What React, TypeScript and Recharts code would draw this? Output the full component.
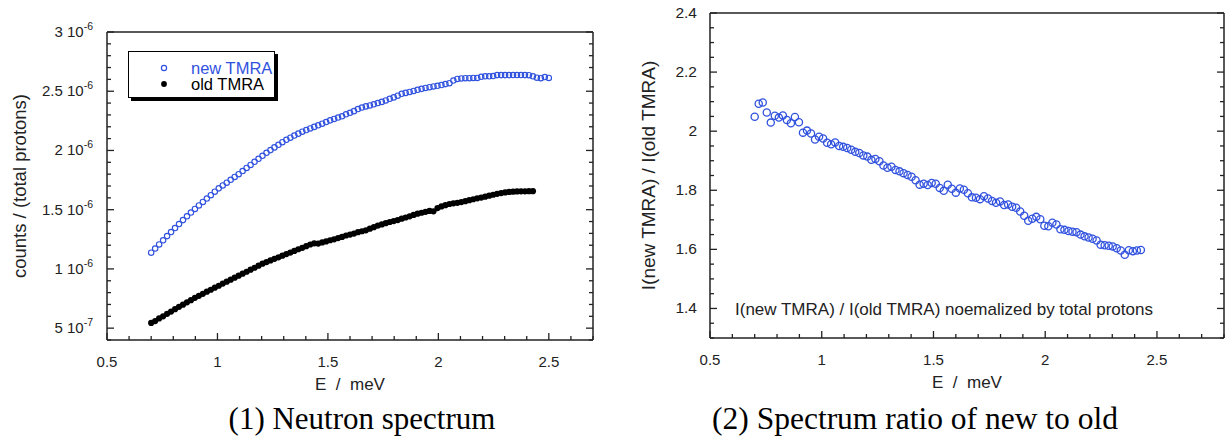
import React from "react";
import { ScatterChart, Scatter, XAxis, YAxis, Legend } from "recharts";

// ---------------------- DATA ----------------------
// neutron energy bins, E / meV
const energy = [
  0.700, 0.718, 0.736, 0.754, 0.772, 0.790, 0.808, 0.826, 0.844, 0.862,
  0.880, 0.898, 0.916, 0.934, 0.952, 0.970, 0.988, 1.006, 1.024, 1.042,
  1.060, 1.078, 1.096, 1.114, 1.132, 1.150, 1.168, 1.186, 1.204, 1.222,
  1.240, 1.258, 1.276, 1.294, 1.312, 1.330, 1.348, 1.366, 1.384, 1.402,
  1.420, 1.438, 1.456, 1.474, 1.492, 1.510, 1.528, 1.546, 1.564, 1.582,
  1.600, 1.618, 1.636, 1.654, 1.672, 1.690, 1.708, 1.726, 1.744, 1.762,
  1.780, 1.798, 1.816, 1.834, 1.852, 1.870, 1.888, 1.906, 1.924, 1.942,
  1.960, 1.978, 1.996, 2.014, 2.032, 2.050, 2.068, 2.086, 2.104, 2.122,
  2.140, 2.158, 2.176, 2.194, 2.212, 2.230, 2.248, 2.266, 2.284, 2.302,
  2.320, 2.338, 2.356, 2.374, 2.392, 2.410, 2.428, 2.446, 2.464, 2.482,
  2.500,
];

// counts / (total protons), in units of 1e-6
const newTmra = [
  1.137, 1.172, 1.207, 1.242, 1.277, 1.311, 1.345, 1.379, 1.412, 1.444,
  1.476, 1.506, 1.536, 1.565, 1.594, 1.622, 1.652, 1.680, 1.705, 1.728,
  1.752, 1.776, 1.800, 1.826, 1.852, 1.878, 1.904, 1.930, 1.955, 1.980,
  2.003, 2.026, 2.048, 2.070, 2.090, 2.108, 2.126, 2.142, 2.158, 2.172,
  2.186, 2.199, 2.212, 2.226, 2.240, 2.254, 2.266, 2.278, 2.288, 2.305,
  2.318, 2.332, 2.350, 2.362, 2.372, 2.380, 2.390, 2.400, 2.410, 2.422,
  2.436, 2.448, 2.462, 2.478, 2.486, 2.494, 2.502, 2.512, 2.520, 2.528,
  2.534, 2.540, 2.546, 2.552, 2.560, 2.568, 2.590, 2.604, 2.608, 2.610,
  2.610, 2.612, 2.612, 2.622, 2.626, 2.626, 2.628, 2.636, 2.636, 2.636,
  2.636, 2.637, 2.637, 2.637, 2.636, 2.635, 2.626, 2.614, 2.610, 2.620,
  2.612,
];

const oldTmra = [
  0.544, 0.560, 0.582, 0.600, 0.621, 0.640, 0.660, 0.680, 0.698, 0.718,
  0.736, 0.756, 0.773, 0.790, 0.808, 0.824, 0.842, 0.858, 0.876, 0.892,
  0.909, 0.926, 0.943, 0.960, 0.976, 0.994, 1.010, 1.027, 1.044, 1.058,
  1.072, 1.085, 1.098, 1.112, 1.125, 1.138, 1.152, 1.166, 1.178, 1.192,
  1.206, 1.216, 1.214, 1.224, 1.232, 1.242, 1.250, 1.260, 1.270, 1.282,
  1.290, 1.298, 1.310, 1.318, 1.326, 1.340, 1.352, 1.366, 1.376, 1.386,
  1.396, 1.404, 1.412, 1.424, 1.434, 1.444, 1.456, 1.466, 1.474, 1.482,
  1.490, 1.486, 1.514, 1.528, 1.538, 1.548, 1.554, 1.558, 1.564, 1.572,
  1.580, 1.588, 1.596, 1.602, 1.610, 1.618, 1.626, 1.634, 1.640, 1.646,
  1.650, 1.652, 1.654, 1.655, 1.655, 1.656, 1.656,
];

// I(new TMRA) / I(old TMRA)
const ratio = [
  2.049, 2.093, 2.097, 2.063, 2.029, 2.052, 2.046, 2.053, 2.038, 2.027,
  2.048, 2.030, 1.995, 2.002, 1.992, 1.972, 1.981, 1.975, 1.961, 1.956,
  1.962, 1.950, 1.947, 1.943, 1.937, 1.930, 1.926, 1.918, 1.914, 1.903,
  1.906, 1.898, 1.884, 1.876, 1.880, 1.869, 1.864, 1.858, 1.852, 1.846,
  1.834, 1.819, 1.822, 1.818, 1.825, 1.822, 1.808, 1.798, 1.819, 1.805,
  1.792, 1.806, 1.802, 1.790, 1.776, 1.775, 1.770, 1.780, 1.772, 1.764,
  1.758, 1.762, 1.750, 1.752, 1.744, 1.741, 1.728, 1.714, 1.697, 1.704,
  1.710, 1.702, 1.680, 1.678, 1.690, 1.684, 1.668, 1.666, 1.662, 1.660,
  1.658, 1.650, 1.644, 1.640, 1.636, 1.630, 1.616, 1.614, 1.612, 1.610,
  1.604, 1.596, 1.582, 1.597, 1.594, 1.596, 1.598,
];

// tick positions
const specXTicks = [0.5, 0.6, 0.7, 0.8, 0.9, 1, 1.1, 1.2, 1.3, 1.4, 1.5, 1.6, 1.7, 1.8, 1.9, 2, 2.1, 2.2, 2.3, 2.4, 2.5, 2.6, 2.7];
const specYTicks = [0.4, 0.5, 0.6, 0.7, 0.8, 0.9, 1, 1.1, 1.2, 1.3, 1.4, 1.5, 1.6, 1.7, 1.8, 1.9, 2, 2.1, 2.2, 2.3, 2.4, 2.5, 2.6, 2.7, 2.8, 2.9, 3];
const ratioXTicks = [0.5, 0.6, 0.7, 0.8, 0.9, 1, 1.1, 1.2, 1.3, 1.4, 1.5, 1.6, 1.7, 1.8, 1.9, 2, 2.1, 2.2, 2.3, 2.4, 2.5, 2.6, 2.7, 2.8];
const ratioYTicks = [1.3, 1.35, 1.4, 1.45, 1.5, 1.55, 1.6, 1.65, 1.7, 1.75, 1.8, 1.85, 1.9, 1.95, 2, 2.05, 2.1, 2.15, 2.2, 2.25, 2.3, 2.35, 2.4];

// scientific labels of the spectrum y axis: mantissa and exponent
const specYLabels = [
  { v: 0.5, m: "5", e: "-7" },
  { v: 1, m: "1", e: "-6" },
  { v: 1.5, m: "1.5", e: "-6" },
  { v: 2, m: "2", e: "-6" },
  { v: 2.5, m: "2.5", e: "-6" },
  { v: 3, m: "3", e: "-6" },
];

const newData = energy.map((e, i) => ({ e, v: newTmra[i] }));
const oldData = energy.slice(0, oldTmra.length).map((e, i) => ({ e, v: oldTmra[i] }));
const ratioData = energy.slice(0, ratio.length).map((e, i) => ({ e, r: ratio[i] }));

// ---------------------- STYLE ----------------------
const FONT = "'Liberation Sans', Arial, Helvetica, sans-serif";
const SERIF = "'Liberation Serif', 'Times New Roman', serif";
const INK = "#222";
const BLUE = "#3152de";
const frame = { stroke: INK, strokeWidth: 1.5 };

type Side = "bottom" | "top" | "left" | "right";

// inward ticks, longer on the major values, label drawn only there
function makeTick(side: Side, majorStep: number, label?: (v: number, x: number, y: number) => React.ReactNode) {
  return (props: any) => {
    const { x, y, payload } = props;
    const v = payload.value;
    const major = Math.abs(v / majorStep - Math.round(v / majorStep)) < 1e-6;
    const len = major ? 7 : 4;
    let x2 = x;
    let y2 = y;
    if (side === "bottom") y2 = y - len;
    if (side === "top") y2 = y + len;
    if (side === "left") x2 = x + len;
    if (side === "right") x2 = x - len;
    return (
      <g>
        <line x1={x} y1={y} x2={x2} y2={y2} stroke={INK} strokeWidth={1.3} />
        {major && label ? label(v, x, y) : null}
      </g>
    );
  };
}

const xLabel = (v: number, x: number, y: number) => (
  <text x={x} y={y + 27} textAnchor="middle" fontSize={15} fill={INK} fontFamily={FONT}>
    {String(v)}
  </text>
);

const sciLabel = (v: number, x: number, y: number) => {
  const l = specYLabels.find((s) => Math.abs(s.v - v) < 1e-6);
  if (!l) return null;
  return (
    <text x={x - 14} y={y + 5} textAnchor="end" fontSize={15} fill={INK} fontFamily={FONT}>
      <tspan>{l.m} 10</tspan>
      <tspan dy={-7} fontSize={10.5}>{l.e}</tspan>
    </text>
  );
};

const ratioYLabel = (v: number, x: number, y: number) => (
  <text x={x - 13} y={y + 5} textAnchor="end" fontSize={15.5} fill={INK} fontFamily={FONT}>
    {String(Math.round(v * 10) / 10)}
  </text>
);

const xTitle = (p: any) => {
  const vb = p.viewBox;
  return (
    <text x={vb.x + vb.width / 2} y={vb.y + 50} textAnchor="middle" fontSize={17} fill={INK} fontFamily={FONT} style={{ whiteSpace: "pre" }}>
      {"E  /  meV"}
    </text>
  );
};

const yTitle = (text: string, dx: number, size: number) => (p: any) => {
  const vb = p.viewBox;
  const cx = vb.x + dx;
  const cy = vb.y + vb.height / 2;
  return (
    <text x={cx} y={cy} transform={`rotate(-90 ${cx} ${cy})`} textAnchor="middle" dominantBaseline="central" fontSize={size} fill={INK} fontFamily={FONT}>
      {text}
    </text>
  );
};

const openDot = (r: number, w: number) => (p: any) => (
  <circle cx={p.cx} cy={p.cy} r={r} fill="none" stroke={BLUE} strokeWidth={w} />
);
const blackDot = (p: any) => <circle cx={p.cx} cy={p.cy} r={3.1} fill="#000" />;

function SpecLegend() {
  return (
    <div style={{ width: 147, height: 47, border: "1px solid #000", boxShadow: "3px 3px 0 #000", background: "#fff", boxSizing: "border-box" }}>
      <svg width={145} height={45}>
        <circle cx={35} cy={16} r={2.6} fill="none" stroke={BLUE} strokeWidth={1.2} />
        <text x={62} y={22} fontSize={16.5} fill={BLUE} fontFamily={FONT}>new TMRA</text>
        <circle cx={35} cy={32} r={2.9} fill="#000" />
        <text x={62} y={38} fontSize={16.5} fill="#000" fontFamily={FONT}>old TMRA</text>
      </svg>
    </div>
  );
}

export default function App() {
  return (
    <div style={{ position: "absolute", left: 0, top: 0, width: 1230, height: 441, background: "#fff" }}>
      {/* (1) neutron spectrum */}
      <div style={{ position: "absolute", left: 0, top: 0 }}>
        <ScatterChart width={610} height={441} margin={{ top: 31, right: 16, bottom: 41, left: 0 }}>
          <XAxis type="number" dataKey="e" domain={[0.5, 2.7]} allowDataOverflow ticks={specXTicks} interval={0}
            tickSize={0} tickMargin={0} tickLine={false} axisLine={frame} height={60}
            tick={makeTick("bottom", 0.5, xLabel)} label={xTitle} />
          <XAxis xAxisId="top" orientation="top" type="number" domain={[0.5, 2.7]} allowDataOverflow ticks={specXTicks} interval={0}
            tickSize={0} tickMargin={0} tickLine={false} axisLine={frame} height={1}
            tick={makeTick("top", 0.5)} />
          <YAxis type="number" dataKey="v" domain={[0.4, 3]} allowDataOverflow ticks={specYTicks} interval={0}
            tickSize={0} tickMargin={0} tickLine={false} axisLine={frame} width={107}
            tick={makeTick("left", 0.5, sciLabel)} label={yTitle("counts / (total protons)", 19, 18.5)} />
          <YAxis yAxisId="right" orientation="right" type="number" domain={[0.4, 3]} allowDataOverflow ticks={specYTicks} interval={0}
            tickSize={0} tickMargin={0} tickLine={false} axisLine={frame} width={1}
            tick={makeTick("right", 0.5)} />
          <Legend layout="vertical" align="center" verticalAlign="middle"
            wrapperStyle={{ left: 128, top: 51, width: "auto", height: "auto" }}
            content={() => <SpecLegend />} />
          <Scatter name="new TMRA" data={newData} shape={openDot(2.7, 1.15)} isAnimationActive={false} />
          <Scatter name="old TMRA" data={oldData} shape={blackDot} isAnimationActive={false} />
        </ScatterChart>
      </div>

      {/* (2) ratio new / old */}
      <div style={{ position: "absolute", left: 615, top: 0 }}>
        <ScatterChart width={615} height={441} margin={{ top: 12, right: 5, bottom: 43, left: 0 }}>
          <XAxis type="number" dataKey="e" domain={[0.5, 2.8]} allowDataOverflow ticks={ratioXTicks} interval={0}
            tickSize={0} tickMargin={0} tickLine={false} axisLine={frame} height={60}
            tick={makeTick("bottom", 0.5, xLabel)} label={xTitle} />
          <XAxis xAxisId="top" orientation="top" type="number" domain={[0.5, 2.8]} allowDataOverflow ticks={ratioXTicks} interval={0}
            tickSize={0} tickMargin={0} tickLine={false} axisLine={frame} height={1}
            tick={makeTick("top", 0.5)} />
          <YAxis type="number" dataKey="r" domain={[1.3, 2.4]} allowDataOverflow ticks={ratioYTicks} interval={0}
            tickSize={0} tickMargin={0} tickLine={false} axisLine={frame} width={95}
            tick={makeTick("left", 0.2, ratioYLabel)} label={yTitle("I(new TMRA) / I(old TMRA)", 33, 19)} />
          <YAxis yAxisId="right" orientation="right" type="number" domain={[1.3, 2.4]} allowDataOverflow ticks={ratioYTicks} interval={0}
            tickSize={0} tickMargin={0} tickLine={false} axisLine={frame} width={1}
            tick={makeTick("right", 0.2)} />
          <Scatter name="ratio" data={ratioData} shape={openDot(3.6, 1.3)} isAnimationActive={false} />
        </ScatterChart>
      </div>

      {/* annotation and captions */}
      <svg width={1230} height={441} style={{ position: "absolute", left: 0, top: 0, pointerEvents: "none" }}>
        <text x={735} y={315} fontSize={17} fill={INK} fontFamily={FONT}>
          I(new TMRA) / I(old TMRA) noemalized by total protons
        </text>
        <text x={362} y={429} textAnchor="middle" fontSize={31} fill="#000" fontFamily={SERIF}>
          (1) Neutron spectrum
        </text>
        <text x={915} y={429} textAnchor="middle" fontSize={31.5} fill="#000" fontFamily={SERIF}>
          (2) Spectrum ratio of new to old
        </text>
      </svg>
    </div>
  );
}
